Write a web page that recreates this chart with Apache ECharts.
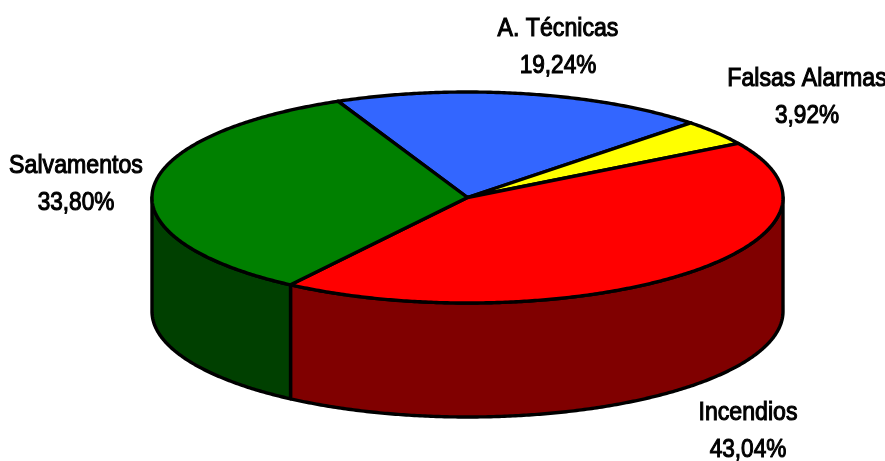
<!DOCTYPE html>
<html>
<head>
<meta charset="utf-8">
<style>html,body{margin:0;padding:0;background:#fff}#c{width:885px;height:461px}</style>
<script src="https://cdn.jsdelivr.net/npm/echarts@6/dist/echarts.min.js"></script>
</head>
<body>
<div id="c"></div>
<script>
const categories = ['A. Técnicas', 'Falsas Alarmas', 'Incendios', 'Salvamentos'];
const shares = [19.24, 3.92, 43.04, 33.80];
const topColors = ['#3366FF', '#FFFF00', '#FF0000', '#008000'];
const sideColors = ['#19337F', '#7F7F00', '#800000', '#004000'];
const labelCenters = [[558, 29], [807, 79], [748, 413], [76, 166]];

const disc = { cx: 467.5, cy: 197.5, rx: 315.5, ry: 105.5, depth: 114, startAngle: -24.2 };
const ink = 3.4;
const total = shares.reduce((a, b) => a + b, 0);
const starts = [];
shares.reduce((acc, v, i) => { starts[i] = acc; return acc + v / total * 360; }, disc.startAngle);

function pt(deg, dy) {
  const r = deg * Math.PI / 180;
  return [disc.cx + disc.rx * Math.sin(r), disc.cy + (dy || 0) - disc.ry * Math.cos(r)];
}
function arc(a0, a1, dy) {
  const out = [], n = Math.max(2, Math.ceil(Math.abs(a1 - a0) * 2));
  for (let i = 0; i <= n; i++) out.push(pt(a0 + (a1 - a0) * i / n, dy));
  return out;
}
const seriesData = shares.map((v, i) => ({ name: categories[i], value: [i, v] }));

function renderSide(params, api) {
  const i = api.value(0), a0 = starts[i], a1 = a0 + api.value(1) / total * 360;
  const from = Math.max(a0, 90), to = Math.min(a1, 270);
  if (to <= from) return { type: 'group', children: [] };
  const pts = arc(from, to, 0).concat(arc(to, from, disc.depth));
  return { type: 'polygon', shape: { points: pts },
    style: { fill: sideColors[i], stroke: '#000', lineWidth: ink, lineJoin: 'round' } };
}
function renderTop(params, api) {
  const i = api.value(0), a0 = starts[i], a1 = a0 + api.value(1) / total * 360;
  const pts = [[disc.cx, disc.cy]].concat(arc(a0, a1, 0));
  return { type: 'polygon', shape: { points: pts },
    style: { fill: topColors[i], stroke: '#000', lineWidth: ink, lineJoin: 'round' } };
}
function renderLabel(params, api) {
  const i = api.value(0);
  const pct = api.value(1).toFixed(2).replace('.', ',') + '%';
  return {
    type: 'group',
    children: [categories[i], pct].map((t, k) => ({
      type: 'text', x: labelCenters[i][0], y: labelCenters[i][1] + k * 37, scaleX: k ? 0.87 : 0.89,
      style: { text: t, x: 0, y: 0, align: 'center', verticalAlign: 'middle',
        fill: '#000', stroke: '#000', lineWidth: 1.1,
        font: 'normal 26px "Liberation Sans", Arial, sans-serif' }
    }))
  };
}
const chart = echarts.init(document.getElementById('c'), null, { renderer: 'canvas' });
chart.setOption({
  backgroundColor: '#fff',
  animation: false,
  tooltip: { show: false },
  series: [
    { type: 'custom', coordinateSystem: 'none', renderItem: renderSide, data: seriesData, z: 1, silent: true },
    { type: 'custom', coordinateSystem: 'none', renderItem: renderTop, data: seriesData, z: 2, silent: true },
    { type: 'custom', coordinateSystem: 'none', renderItem: renderLabel, data: seriesData, z: 3, silent: true }
  ]
});
</script>
</body>
</html>
